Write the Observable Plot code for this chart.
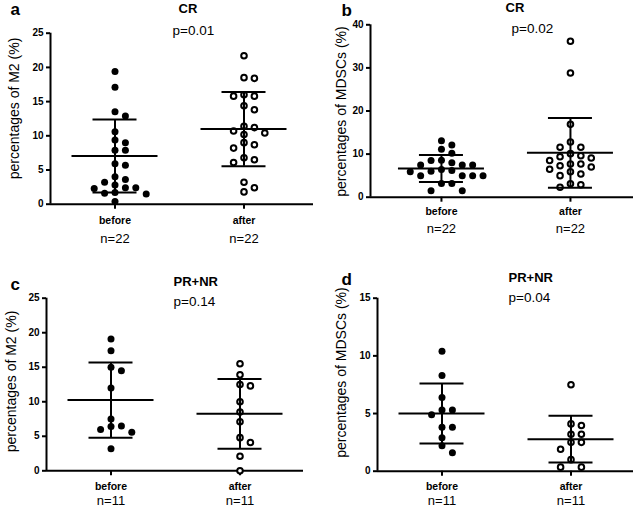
<!DOCTYPE html>
<html>
<head>
<meta charset="utf-8">
<script src="https://cdn.jsdelivr.net/npm/d3@7"></script>
<script src="https://cdn.jsdelivr.net/npm/@observablehq/plot@0.6"></script>
<style>
  body { margin: 0; background: #fff; }
  #grid { width: 636px; height: 508px; display: flex; flex-wrap: wrap; }
  #grid svg { display: block; }
</style>
</head>
<body>
<div id="grid"></div>
<script>
// ---- data ----
const groups = ["before", "after"];
const groupPos = [1, 3];

const aLetter = "a", aTitle = "CR", aP = "p=0.01", aYLabel = "percentages of M2 (%)";
const aN = ["n=22", "n=22"];
const aYTicks = [0, 5, 10, 15, 20, 25];
const aBefore = [19.4, 17.1, 13.5, 12.9, 10.6, 9.4, 9.0, 7.9, 7.9, 5.9, 5.7, 4.0, 3.6, 3.2, 2.8, 2.4, 2.3, 2.4, 1.6, 1.7, 1.5, 0.4];
const aAfter = [21.7, 18.4, 18.5, 15.8, 15.8, 16.0, 13.8, 14.4, 11.2, 11.4, 10.4, 10.2, 10.7, 9.0, 8.7, 8.2, 6.5, 6.8, 6.1, 3.2, 2.4, 1.8];
const aMean = [7.05, 10.98];
const aSD = [5.35, 5.42];

const bLetter = "b", bTitle = "CR", bP = "p=0.02", bYLabel = "percentages of MDSCs (%)";
const bN = ["n=22", "n=22"];
const bYTicks = [0, 10, 20, 30, 40];
const bBefore = [13.1, 12.1, 11.1, 10.2, 8.5, 7.5, 7.5, 7.5, 8.0, 8.6, 6.0, 6.4, 5.0, 5.0, 5.0, 5.0, 5.9, 6.2, 3.2, 3.2, 1.5, 1.5];
const bAfter = [36.2, 28.8, 16.9, 12.8, 11.6, 11.6, 10.1, 9.4, 9.6, 9.1, 8.5, 7.7, 7.7, 7.3, 6.5, 7.0, 5.4, 5.0, 5.9, 3.1, 2.3, 2.9];
const bMean = [6.65, 10.3];
const bSD = [3.15, 8.1];

const cLetter = "c", cTitle = "PR+NR", cP = "p=0.14", cYLabel = "percentages of M2 (%)";
const cN = ["n=11", "n=11"];
const cYTicks = [0, 5, 10, 15, 20, 25];
const cBefore = [19.1, 17.4, 14.5, 15.0, 12.0, 7.5, 6.5, 6.0, 6.4, 5.6, 3.2];
const cAfter = [15.5, 13.9, 12.5, 12.3, 10.0, 8.5, 7.1, 4.8, 4.1, 2.1, 0.0];
const cMean = [10.25, 8.25];
const cSD = [5.45, 5.05];

const dLetter = "d", dTitle = "PR+NR", dP = "p=0.04", dYLabel = "percentages of MDSCs (%)";
const dN = ["n=11", "n=11"];
const dYTicks = [0, 5, 10, 15];
const dBefore = [10.4, 8.3, 6.4, 5.3, 5.3, 4.9, 3.8, 3.8, 2.9, 2.2, 1.6];
const dAfter = [7.5, 4.1, 3.96, 3.2, 3.2, 2.5, 2.5, 1.9, 1.0, 0.35, 0.35];
const dMean = [5.0, 2.78];
const dSD = [2.6, 2.03];

// ---- layout ----
const FONT = "'Liberation Sans', Arial, Helvetica, sans-serif";
const W = 318, H = 254;
const SPACING = 10.4, GAP = 7.5;

const panels = [
  {letter: aLetter, title: aTitle, p: aP, ylabel: aYLabel, n: aN, ticks: aYTicks, before: aBefore, after: aAfter, mean: aMean, sd: aSD,
   ml: 50, mr: 5, mt: 32.7, mb: 50.3, x0: 0, letterXY: [10, 9], titleXY: [178, 8], pXY: [172, 30], ylabXY: [14, 108], catY: 220, nY: 238},
  {letter: bLetter, title: bTitle, p: bP, ylabel: bYLabel, n: bN, ticks: bYTicks, before: bBefore, after: bAfter, mean: bMean, sd: bSD,
   ml: 52, mr: 3, mt: 24.3, mb: 57.3, x0: -0.1, letterXY: [23, 10], titleXY: [187, 7], pXY: [193, 28], ylabXY: [23, 111], catY: 211, nY: 228},
  {letter: cLetter, title: cTitle, p: cP, ylabel: cYLabel, n: cN, ticks: cYTicks, before: cBefore, after: cAfter, mean: cMean, sd: cSD,
   ml: 46, mr: 15, mt: 43.7, mb: 37.7, x0: 0, letterXY: [10, 30], titleXY: [173, 27], pXY: [173, 47], ylabXY: [11, 127], catY: 232, nY: 246},
  {letter: dLetter, title: dTitle, p: dP, ylabel: dYLabel, n: dN, ticks: dYTicks, before: dBefore, after: dAfter, mean: dMean, sd: dSD,
   ml: 59, mr: 3, mt: 43.7, mb: 37.3, x0: 0, letterXY: [23, 25], titleXY: [190, 23], pXY: [190, 43], ylabXY: [23, 118], catY: 232, nY: 246}
];

function swarm(values, pos, yppu, xppu) {
  const order = d3.range(values.length).sort((i, j) => values[j] - values[i]);
  const placed = [];
  const out = new Array(values.length);
  for (const i of order) {
    const v = values[i];
    for (let s = 0; ; s++) {
      const k = s === 0 ? 0 : (s % 2 ? (s + 1) / 2 : -s / 2);
      if (placed.every(p => p.k !== k || Math.abs(p.v - v) * yppu >= GAP)) {
        placed.push({k, v});
        out[i] = {x: pos + k * SPACING / xppu, y: v};
        break;
      }
    }
  }
  return out;
}

function at(cfg, xy, opts) {
  return {frameAnchor: "top-left", dx: xy[0] - cfg.ml, dy: xy[1] - cfg.mt, ...opts};
}

const grid = document.getElementById("grid");
for (const cfg of panels) {
  const ymax = cfg.ticks[cfg.ticks.length - 1];
  const xppu = 64.5;
  const x1 = cfg.x0 + (W - cfg.ml - cfg.mr) / xppu;
  const yppu = (H - cfg.mt - cfg.mb) / ymax;
  const dotsBefore = swarm(cfg.before, groupPos[0], yppu, xppu);
  const dotsAfter = swarm(cfg.after, groupPos[1], yppu, xppu);
  const summary = groups.map((g, i) => ({g, pos: groupPos[i], mean: cfg.mean[i], lo: cfg.mean[i] - cfg.sd[i], hi: cfg.mean[i] + cfg.sd[i], n: cfg.n[i]}));
  const caps = summary.flatMap(d => [{pos: d.pos, y: d.lo}, {pos: d.pos, y: d.hi}]);
  const meanHalf = 43 / xppu, capHalf = 22 / xppu;
  // y-axis title anchor, converted from panel pixels to data space
  const ylab = [{
    text: cfg.ylabel,
    x: cfg.x0 + (cfg.ylabXY[0] - cfg.ml) / xppu,
    y: ymax - (cfg.ylabXY[1] - cfg.mt) / yppu
  }];

  const chart = Plot.plot({
    width: W, height: H,
    marginLeft: cfg.ml, marginRight: cfg.mr, marginTop: cfg.mt, marginBottom: cfg.mb,
    x: {domain: [cfg.x0, x1], axis: null},
    y: {domain: [0, ymax], axis: null},
    style: {fontFamily: FONT, background: "white", color: "black", overflow: "visible"},
    marks: [
      Plot.ruleX([cfg.x0], {stroke: "black", strokeWidth: 2}),
      Plot.ruleY([0], {stroke: "black", strokeWidth: 2}),
      Plot.axisY({ticks: cfg.ticks, tickSize: 4, tickPadding: 3, fontSize: 10, fontWeight: "bold", strokeWidth: 2, label: null, tickFormat: d => String(d)}),
      Plot.axisX({ticks: groupPos, tickSize: 5, strokeWidth: 2, label: null, tickFormat: () => ""}),
      Plot.dot(dotsBefore, {x: "x", y: "y", r: 3.5, fill: "black", stroke: null}),
      Plot.dot(dotsAfter, {x: "x", y: "y", r: 2.8, fill: "white", stroke: "black", strokeWidth: 2}),
      Plot.ruleX(summary, {x: "pos", y1: "lo", y2: "hi", stroke: "black", strokeWidth: 2}),
      Plot.ruleY(summary, {y: "mean", x1: d => d.pos - meanHalf, x2: d => d.pos + meanHalf, stroke: "black", strokeWidth: 2}),
      Plot.ruleY(caps, {y: "y", x1: d => d.pos - capHalf, x2: d => d.pos + capHalf, stroke: "black", strokeWidth: 2}),
      Plot.text(summary, {x: "pos", frameAnchor: "bottom", dy: cfg.catY - (H - cfg.mb), text: "g", fontSize: 10.5, fontWeight: "bold", lineAnchor: "middle"}),
      Plot.text(summary, {x: "pos", frameAnchor: "bottom", dy: cfg.nY - (H - cfg.mb), text: "n", fontSize: 13, lineAnchor: "middle"}),
      Plot.text([cfg.letter], at(cfg, cfg.letterXY, {text: d => d, fontSize: 17, fontWeight: "bold", lineAnchor: "middle"})),
      Plot.text([cfg.title], at(cfg, cfg.titleXY, {text: d => d, fontSize: 13, fontWeight: "bold", lineAnchor: "middle"})),
      Plot.text([cfg.p], at(cfg, cfg.pXY, {text: d => d, fontSize: 13.5, lineAnchor: "middle"})),
      Plot.text(ylab, {x: "x", y: "y", text: "text", fontSize: 14, rotate: -90, lineAnchor: "middle"})
    ]
  });
  grid.appendChild(chart);
}
</script>
</body>
</html>
